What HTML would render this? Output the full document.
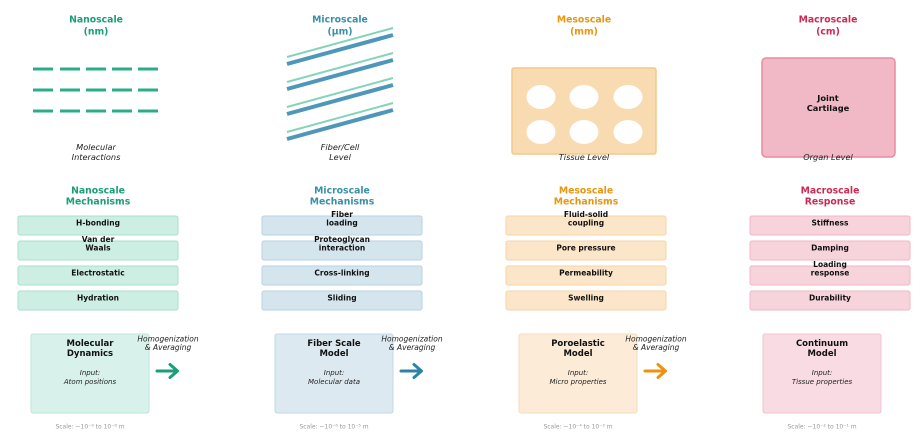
<!DOCTYPE html>
<html><head><meta charset="utf-8"><style>
html,body{margin:0;padding:0;background:#fff;}
svg{display:block;}
text{font-family:"DejaVu Sans","Liberation Sans",sans-serif;}
.t{font-weight:bold;font-size:9.3px;text-anchor:middle;dominant-baseline:central;}
.l{font-style:italic;font-size:8.2px;text-anchor:middle;dominant-baseline:central;fill:#222;}
.b{font-weight:bold;font-size:7.5px;text-anchor:middle;dominant-baseline:central;fill:#111;}
.mt{font-weight:bold;font-size:8.5px;text-anchor:middle;dominant-baseline:central;fill:#111;}
.mi{font-style:italic;font-size:7px;text-anchor:middle;dominant-baseline:central;fill:#222;}
.h{font-style:italic;font-size:7.5px;text-anchor:middle;dominant-baseline:central;fill:#222;}
.s{font-size:6px;text-anchor:middle;dominant-baseline:central;fill:#999;}
</style></head><body>
<svg width="920" height="440" viewBox="0 0 920 440" xmlns="http://www.w3.org/2000/svg">
<!-- Row 1 titles -->
<text class="t" x="96" y="20" fill="#1a9e77">Nanoscale</text>
<text class="t" x="96" y="32" fill="#1a9e77">(nm)</text>
<text class="t" x="340" y="20" fill="#3a90a8">Microscale</text>
<text class="t" x="340" y="32" fill="#3a90a8">(µm)</text>
<text class="t" x="584" y="20" fill="#e8960e">Mesoscale</text>
<text class="t" x="584" y="32" fill="#e8960e">(mm)</text>
<text class="t" x="828" y="20" fill="#cc2a52">Macroscale</text>
<text class="t" x="828" y="32" fill="#cc2a52">(cm)</text>

<!-- Nano dashes -->
<g stroke="#2bae88" stroke-width="3">
<line x1="33" y1="69" x2="53" y2="69"/><line x1="60" y1="69" x2="80" y2="69"/><line x1="86" y1="69" x2="106" y2="69"/><line x1="112" y1="69" x2="132" y2="69"/><line x1="138" y1="69" x2="158" y2="69"/>
<line x1="33" y1="90" x2="53" y2="90"/><line x1="60" y1="90" x2="80" y2="90"/><line x1="86" y1="90" x2="106" y2="90"/><line x1="112" y1="90" x2="132" y2="90"/><line x1="138" y1="90" x2="158" y2="90"/>
<line x1="33" y1="111" x2="53" y2="111"/><line x1="60" y1="111" x2="80" y2="111"/><line x1="86" y1="111" x2="106" y2="111"/><line x1="112" y1="111" x2="132" y2="111"/><line x1="138" y1="111" x2="158" y2="111"/>
</g>
<text class="l" x="96" y="147">Molecular</text>
<text class="l" x="96" y="157">Interactions</text>

<!-- Micro fibers -->
<g stroke="#84d4b8" stroke-width="2">
<line x1="287" y1="57" x2="393" y2="28"/>
<line x1="287" y1="82" x2="393" y2="53"/>
<line x1="287" y1="107" x2="393" y2="78"/>
<line x1="287" y1="132" x2="393" y2="103"/>
</g>
<g stroke="#4f97ba" stroke-width="4">
<line x1="287" y1="64" x2="393" y2="35"/>
<line x1="287" y1="89" x2="393" y2="60"/>
<line x1="287" y1="114" x2="393" y2="85"/>
<line x1="287" y1="139" x2="393" y2="110"/>
</g>
<text class="l" x="340" y="147">Fiber/Cell</text>
<text class="l" x="340" y="157">Level</text>

<!-- Meso tissue -->
<rect x="512" y="68" width="144" height="86" rx="2" fill="#f8dbb0" stroke="#f3c98c" stroke-width="1.5"/>
<g fill="#fff">
<ellipse cx="541" cy="97" rx="14.5" ry="12"/><ellipse cx="584" cy="97" rx="14.5" ry="12"/><ellipse cx="628" cy="97" rx="14.5" ry="12"/>
<ellipse cx="541" cy="132" rx="14.5" ry="12"/><ellipse cx="584" cy="132" rx="14.5" ry="12"/><ellipse cx="628" cy="132" rx="14.5" ry="12"/>
</g>
<text class="l" x="584" y="157">Tissue Level</text>

<!-- Macro organ -->
<rect x="762" y="58" width="133" height="99" rx="4" fill="#f0b9c5" stroke="#e98aa0" stroke-width="1.5"/>
<text class="mt" x="828" y="98" style="font-size:8.3px">Joint</text>
<text class="mt" x="828" y="108" style="font-size:8.3px">Cartilage</text>
<text class="l" x="828" y="157">Organ Level</text>

<!-- Row 2 titles -->
<text class="t" x="98" y="191" fill="#1a9e77">Nanoscale</text>
<text class="t" x="98" y="202" fill="#1a9e77">Mechanisms</text>
<text class="t" x="342" y="191" fill="#3a90a8">Microscale</text>
<text class="t" x="342" y="202" fill="#3a90a8">Mechanisms</text>
<text class="t" x="586" y="191" fill="#e8960e">Mesoscale</text>
<text class="t" x="586" y="202" fill="#e8960e">Mechanisms</text>
<text class="t" x="830" y="191" fill="#cc2a52">Macroscale</text>
<text class="t" x="830" y="202" fill="#cc2a52">Response</text>

<!-- Nano boxes -->
<g fill="#cdeee3" stroke="#a9e0cd" stroke-width="1">
<rect x="18" y="216" width="160" height="19" rx="2"/><rect x="18" y="241" width="160" height="19" rx="2"/><rect x="18" y="266" width="160" height="19" rx="2"/><rect x="18" y="291" width="160" height="19" rx="2"/>
</g>
<text class="b" x="98" y="223">H-bonding</text>
<text class="b" x="98" y="239.5">Van der</text>
<text class="b" x="98" y="248">Waals</text>
<text class="b" x="98" y="273">Electrostatic</text>
<text class="b" x="98" y="298">Hydration</text>

<!-- Micro boxes -->
<g fill="#d4e5ee" stroke="#b8d2e1" stroke-width="1">
<rect x="262" y="216" width="160" height="19" rx="2"/><rect x="262" y="241" width="160" height="19" rx="2"/><rect x="262" y="266" width="160" height="19" rx="2"/><rect x="262" y="291" width="160" height="19" rx="2"/>
</g>
<text class="b" x="342" y="214.5">Fiber</text>
<text class="b" x="342" y="223">loading</text>
<text class="b" x="342" y="239.5">Proteoglycan</text>
<text class="b" x="342" y="248">interaction</text>
<text class="b" x="342" y="273">Cross-linking</text>
<text class="b" x="342" y="298">Sliding</text>

<!-- Meso boxes -->
<g fill="#fce6c9" stroke="#f6d4a8" stroke-width="1">
<rect x="506" y="216" width="160" height="19" rx="2"/><rect x="506" y="241" width="160" height="19" rx="2"/><rect x="506" y="266" width="160" height="19" rx="2"/><rect x="506" y="291" width="160" height="19" rx="2"/>
</g>
<text class="b" x="586" y="214.5">Fluid-solid</text>
<text class="b" x="586" y="223">coupling</text>
<text class="b" x="586" y="248">Pore pressure</text>
<text class="b" x="586" y="273">Permeability</text>
<text class="b" x="586" y="298">Swelling</text>

<!-- Macro boxes -->
<g fill="#f7d3dc" stroke="#f0b5c3" stroke-width="1">
<rect x="750" y="216" width="160" height="19" rx="2"/><rect x="750" y="241" width="160" height="19" rx="2"/><rect x="750" y="266" width="160" height="19" rx="2"/><rect x="750" y="291" width="160" height="19" rx="2"/>
</g>
<text class="b" x="830" y="223">Stiffness</text>
<text class="b" x="830" y="248">Damping</text>
<text class="b" x="830" y="264.5">Loading</text>
<text class="b" x="830" y="273">response</text>
<text class="b" x="830" y="298">Durability</text>

<!-- Row 3 model boxes -->
<rect x="31" y="334" width="118" height="79" rx="2" fill="#d8f1ea" stroke="#bde6d8" stroke-width="1"/>
<text class="mt" x="90" y="344">Molecular</text>
<text class="mt" x="90" y="354">Dynamics</text>
<text class="mi" x="90" y="373">Input:</text>
<text class="mi" x="90" y="382">Atom positions</text>
<text class="s" x="90" y="427">Scale: ~10⁻⁹ to 10⁻⁸ m</text>

<rect x="275" y="334" width="118" height="79" rx="2" fill="#dde9f1" stroke="#c3d8e6" stroke-width="1"/>
<text class="mt" x="334" y="344">Fiber Scale</text>
<text class="mt" x="334" y="354">Model</text>
<text class="mi" x="334" y="373">Input:</text>
<text class="mi" x="334" y="382">Molecular data</text>
<text class="s" x="334" y="427">Scale: ~10⁻⁶ to 10⁻⁵ m</text>

<rect x="519" y="334" width="118" height="79" rx="2" fill="#fcebd6" stroke="#f8ddbc" stroke-width="1"/>
<text class="mt" x="578" y="344">Poroelastic</text>
<text class="mt" x="578" y="354">Model</text>
<text class="mi" x="578" y="373">Input:</text>
<text class="mi" x="578" y="382">Micro properties</text>
<text class="s" x="578" y="427">Scale: ~10⁻⁴ to 10⁻³ m</text>

<rect x="763" y="334" width="118" height="79" rx="2" fill="#f9dce3" stroke="#f2c3cf" stroke-width="1"/>
<text class="mt" x="822" y="344">Continuum</text>
<text class="mt" x="822" y="354">Model</text>
<text class="mi" x="822" y="373">Input:</text>
<text class="mi" x="822" y="382">Tissue properties</text>
<text class="s" x="822" y="427">Scale: ~10⁻² to 10⁻¹ m</text>

<!-- Arrows -->
<text class="h" x="168" y="339">Homogenization</text>
<text class="h" x="168" y="347.5">&amp; Averaging</text>
<g stroke="#1a9e77" stroke-width="3" fill="none" stroke-linecap="round" stroke-linejoin="round">
<line x1="157" y1="371" x2="177" y2="371"/><polyline points="170,364.5 177.5,371 170,377.5"/>
</g>

<text class="h" x="412" y="339">Homogenization</text>
<text class="h" x="412" y="347.5">&amp; Averaging</text>
<g stroke="#2b83a6" stroke-width="3" fill="none" stroke-linecap="round" stroke-linejoin="round">
<line x1="401" y1="371" x2="421" y2="371"/><polyline points="414,364.5 421.5,371 414,377.5"/>
</g>

<text class="h" x="656" y="339">Homogenization</text>
<text class="h" x="656" y="347.5">&amp; Averaging</text>
<g stroke="#ee920e" stroke-width="3" fill="none" stroke-linecap="round" stroke-linejoin="round">
<line x1="645" y1="371" x2="665" y2="371"/><polyline points="658,364.5 665.5,371 658,377.5"/>
</g>
</svg>
</body></html>
